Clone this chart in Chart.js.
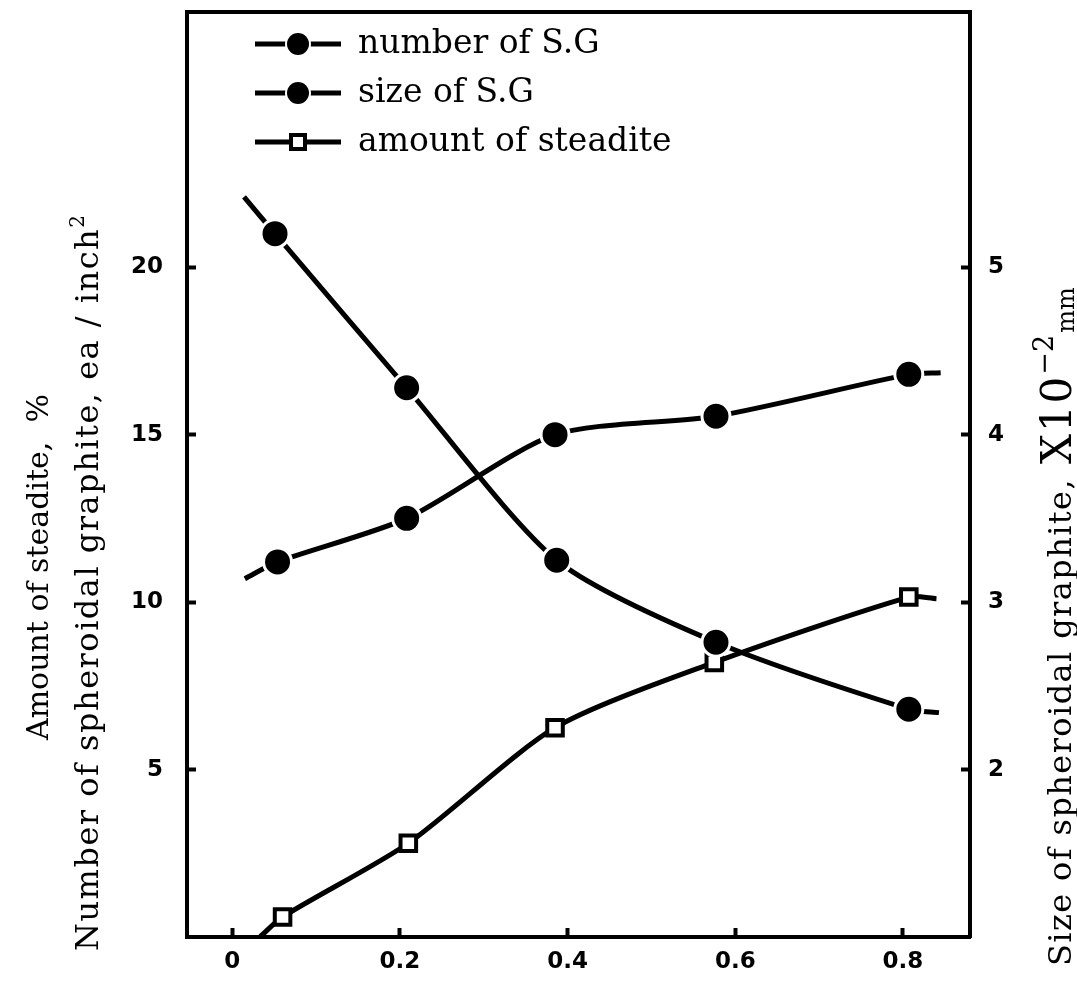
<!DOCTYPE html>
<html>
<head>
<meta charset="utf-8">
<script src="https://cdn.jsdelivr.net/npm/chart.js@4.4.0/dist/chart.umd.min.js"></script>
<style>
html, body { margin: 0; padding: 0; background: #fff; }
#wrap { position: relative; width: 1077px; height: 984px; }
</style>
</head>
<body>
<div id="wrap"><canvas id="chart"></canvas></div>
<script>
// tick labels
const xTicks = [0, 0.2, 0.4, 0.6, 0.8];
const xTickLabels = ['0', '0.2', '0.4', '0.6', '0.8'];
const leftTicks = [5, 10, 15, 20];
const rightTicks = [2, 3, 4, 5];

// number of S.G (left axis, ea/inch2) - first and last are the curve ends
const numberX = [0.014, 0.051, 0.208, 0.387, 0.577, 0.807, 0.843];
const numberY = [22.1, 21.0, 16.4, 11.25, 8.8, 6.8, 6.7];

// size of S.G (right axis, x10^-2 mm)
const sizeX = [0.015, 0.054, 0.208, 0.385, 0.577, 0.807, 0.845];
const sizeY = [3.14, 3.24, 3.5, 4.0, 4.11, 4.36, 4.37];

// amount of steadite (left axis, %)
const steadX = [0.033, 0.06, 0.21, 0.385, 0.575, 0.807, 0.84];
const steadY = [0, 0.6, 2.8, 6.25, 8.2, 10.15, 10.1];

const seriesLabels = ['number of S.G', 'size of S.G', 'amount of steadite'];

const toPoints = (xs, ys) => xs.map((x, i) => ({ x: x, y: ys[i] }));

// no marker on the two curve ends
const markerRadius = r => ctx =>
    (ctx.dataIndex === 0 || ctx.dataIndex === ctx.dataset.data.length - 1) ? 0 : r;

const tickFont = { family: 'DejaVu Sans', size: 23, weight: 'bold' };
const serif = '"DejaVu Serif"';

// little legend symbols: line with the marker in the middle
function legendSymbol(kind) {
    const c = document.createElement('canvas');
    c.width = 90; c.height = 26;
    const g = c.getContext('2d');
    g.strokeStyle = '#000';
    g.lineWidth = 5;
    g.beginPath(); g.moveTo(2, 13); g.lineTo(88, 13); g.stroke();
    if (kind === 'rect') {
        g.fillStyle = '#fff';
        g.fillRect(37, 5, 16, 16);
        g.lineWidth = 4;
        g.strokeRect(38, 6, 14, 14);
    } else {
        g.fillStyle = '#fff';
        g.beginPath(); g.arc(45, 13, 13, 0, Math.PI * 2); g.fill();
        g.fillStyle = '#000';
        g.beginPath(); g.arc(45, 13, 11, 0, Math.PI * 2); g.fill();
    }
    return c;
}
const symbols = [legendSymbol('circle'), legendSymbol('circle'), legendSymbol('rect')];

// draws pieces of text one after another along a rotated (bottom-to-top) line
function vpieces(ctx, parts, x, yStart) {
    ctx.save();
    ctx.translate(x, yStart);
    ctx.rotate(-Math.PI / 2);
    ctx.textAlign = 'left';
    ctx.textBaseline = 'alphabetic';
    let pos = 0;
    parts.forEach(p => {
        ctx.font = p.size + 'px ' + serif;
        ctx.letterSpacing = (p.spacing || 0) + 'px';
        ctx.fillText(p.text, pos, p.shift || 0);
        pos += ctx.measureText(p.text).width + (p.gap || 0);
    });
    ctx.restore();
}

const extras = {
    id: 'extras',
    afterDraw(chart) {
        const ctx = chart.ctx;
        const a = chart.chartArea;
        ctx.save();
        // top frame line
        ctx.strokeStyle = '#000';
        ctx.lineWidth = 4;
        ctx.beginPath();
        ctx.moveTo(a.left - 2, a.top);
        ctx.lineTo(a.right + 2, a.top);
        ctx.stroke();

        // legend
        ctx.fillStyle = '#000';
        ctx.font = '33px ' + serif;
        ctx.textBaseline = 'middle';
        ctx.textAlign = 'left';
        seriesLabels.forEach((lab, i) => {
            const y = 44 + i * 49;
            ctx.drawImage(symbols[i], 253, y - 13);
            ctx.fillText(lab, 358, y);
        });

        // axis titles
        vpieces(ctx, [{ text: 'Amount of steadite,  %', size: 30 }], 48, 740);
        vpieces(ctx, [
            { text: 'Number of spheroidal graphite, ea / inch', size: 32, spacing: 1.5 },
            { text: '2', size: 20, shift: -14 }
        ], 98, 951);
        vpieces(ctx, [
            { text: 'Size of spheroidal graphite,', size: 32, spacing: 1.4, gap: 14 },
            { text: 'X10', size: 42, spacing: 2 },
            { text: '\u22122', size: 27, shift: -18, gap: 2 },
            { text: 'mm', size: 24, shift: 3 }
        ], 1071, 966);
        ctx.restore();
    }
};

const lineStyle = {
    borderColor: '#000',
    borderWidth: 5,
    tension: 0.25,
    pointBorderColor: '#fff',
    pointBackgroundColor: '#000',
    pointBorderWidth: 3,
    pointRadius: markerRadius(14),
    pointHoverRadius: markerRadius(14)
};

const axisGrid = { drawOnChartArea: false, color: '#000', tickLength: -9, tickWidth: 4 };
const axisBorder = { color: '#000', width: 4 };

const noPad = s => { s.paddingTop = 0; s.paddingBottom = 0; s.paddingLeft = 0; s.paddingRight = 0; };

new Chart(document.getElementById('chart'), {
    type: 'line',
    data: {
        datasets: [
            Object.assign({ label: seriesLabels[0], data: toPoints(numberX, numberY), yAxisID: 'y' }, lineStyle),
            Object.assign({ label: seriesLabels[1], data: toPoints(sizeX, sizeY), yAxisID: 'y1' }, lineStyle),
            Object.assign({}, lineStyle, {
                label: seriesLabels[2], data: toPoints(steadX, steadY), yAxisID: 'y',
                pointStyle: 'rect', pointBorderColor: '#000', pointBackgroundColor: '#fff',
                pointBorderWidth: 4, pointRadius: markerRadius(11), pointHoverRadius: markerRadius(11)
            })
        ]
    },
    options: {
        responsive: true,
        maintainAspectRatio: false,
        animation: false,
        events: [],
        layout: { padding: { top: 12, left: 0, right: 0, bottom: 0 } },
        plugins: { legend: { display: false }, tooltip: { enabled: false } },
        scales: {
            x: {
                type: 'linear', position: 'bottom', min: -0.054, max: 0.88,
                border: axisBorder, grid: axisGrid,
                afterBuildTicks: s => { s.ticks = xTicks.map(v => ({ value: v })); },
                afterFit: s => { s.height = 47; noPad(s); },
                ticks: { autoSkip: false, maxRotation: 0, color: '#000', font: tickFont, padding: 20,
                    callback: (v, i) => xTickLabels[i] }
            },
            y: {
                type: 'linear', position: 'left', min: 0, max: 27.62,
                border: axisBorder, grid: axisGrid,
                afterBuildTicks: s => { s.ticks = leftTicks.map(v => ({ value: v })); },
                afterFit: s => { s.width = 187; noPad(s); },
                ticks: { autoSkip: false, color: '#000', font: tickFont, padding: 33,
                    callback: (v, i) => String(leftTicks[i]) }
            },
            y1: {
                type: 'linear', position: 'right', min: 1, max: 6.524,
                border: axisBorder, grid: axisGrid,
                afterBuildTicks: s => { s.ticks = rightTicks.map(v => ({ value: v })); },
                afterFit: s => { s.width = 107; noPad(s); },
                ticks: { autoSkip: false, color: '#000', font: tickFont, padding: 27,
                    callback: (v, i) => String(rightTicks[i]) }
            }
        }
    },
    plugins: [extras]
});
</script>
</body>
</html>
